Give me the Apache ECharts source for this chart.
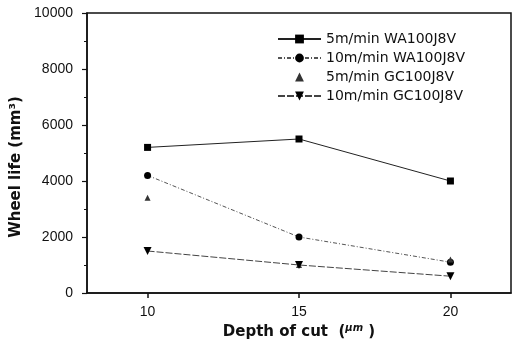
<!DOCTYPE html>
<html>
<head>
<meta charset="utf-8">
<script src="https://cdn.jsdelivr.net/npm/echarts@6/dist/echarts.min.js"></script>
<style>
  html, body { margin: 0; padding: 0; background: #fff; }
  #chart { width: 513px; height: 345px; }
</style>
</head>
<body>
<div id="chart"></div>
<script>
'use strict';

// depth of cut (um)
var depths = [10, 15, 20];
var seriesNames = ['5m/min WA100J8V', '10m/min WA100J8V', '5m/min GC100J8V', '10m/min GC100J8V'];
// wheel life (mm^3)
var wa5 = [5200, 5500, 4000];
var wa10 = [4200, 2000, 1100];
var gc5 = [3400, 1000, 1200];
var gc10 = [1500, 1000, 600];
var yTicks = [0, 2000, 4000, 6000, 8000, 10000];

function pairs(vals) {
    return depths.map(function(d, i) { return [d, vals[i]]; });
}

var tickFont = { color: '#111', fontSize: 14, fontFamily: 'Liberation Sans' };

var option = {
    animation: false,
    backgroundColor: '#fff',
    grid: {
        left: 87, right: 2, top: 13, bottom: 52,
        show: true, borderColor: '#111', borderWidth: 1.5
    },
    legend: {
        orient: 'vertical',
        left: 272, top: 27,
        itemWidth: 43, itemHeight: 11, itemGap: 5,
        textStyle: { color: '#111', fontSize: 14, fontFamily: 'DejaVu Sans' },
        data: seriesNames
    },
    xAxis: {
        type: 'value', min: 8, max: 22,
        name: 'Depth of cut  ({u|μm} )',
        nameLocation: 'middle', nameGap: 30,
        nameTextStyle: {
            color: '#111', fontSize: 15, fontWeight: 'bold', fontFamily: 'DejaVu Sans',
            rich: { u: { fontSize: 10, fontStyle: 'italic', fontFamily: 'DejaVu Sans', color: '#111', verticalAlign: 'top', padding: [0, 0, 6, 0] } }
        },
        axisLine: { lineStyle: { color: '#111', width: 1.5 } },
        axisTick: { inside: false, length: 5, customValues: depths, lineStyle: { color: '#111', width: 1.5 } },
        axisLabel: Object.assign({ margin: 12, customValues: depths }, tickFont),
        splitLine: { show: false }
    },
    yAxis: {
        type: 'value', min: yTicks[0], max: yTicks[yTicks.length - 1], interval: 2000,
        name: 'Wheel life (mm³)',
        nameLocation: 'middle', nameGap: 57,
        nameTextStyle: { color: '#111', fontSize: 15, fontWeight: 'bold', fontFamily: 'DejaVu Sans', padding: [0, 28, 0, 0] },
        axisLine: { show: true, lineStyle: { color: '#111', width: 1.5 } },
        axisTick: { inside: false, length: 5, lineStyle: { color: '#111', width: 1.2 } },
        minorTick: { show: true, splitNumber: 2, length: 3, lineStyle: { color: '#111', width: 1 } },
        axisLabel: Object.assign({ margin: 14, formatter: function(v) { return String(v); } }, tickFont),
        splitLine: { show: false }
    },
    series: [{
        name: seriesNames[0], type: 'line', data: pairs(wa5),
        symbol: 'rect', symbolSize: 7,
        itemStyle: { color: '#000' },
        lineStyle: { color: '#222', width: 1, type: 'solid' }
    }, {
        name: seriesNames[1], type: 'line', data: pairs(wa10),
        symbol: 'circle', symbolSize: 7,
        itemStyle: { color: '#000' },
        lineStyle: { color: '#555', width: 1, type: [4, 2, 1, 2] }
    }, {
        name: seriesNames[2], type: 'line', data: pairs(gc5),
        symbol: 'triangle', symbolSize: 6,
        itemStyle: { color: '#333' },
        lineStyle: { width: 0, opacity: 0 }
    }, {
        name: seriesNames[3], type: 'line', data: pairs(gc10),
        symbol: 'triangle', symbolRotate: 180, symbolSize: 8,
        itemStyle: { color: '#000' },
        lineStyle: { color: '#444', width: 1, type: [7, 2] }
    }]
};

var myChart = echarts.init(document.getElementById('chart'));
myChart.setOption(option);
</script>
</body>
</html>
